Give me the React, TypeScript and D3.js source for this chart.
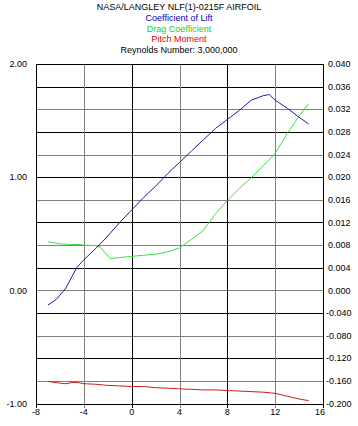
import React from 'react';
import * as d3 from 'd3';

// angle of attack (deg) and coefficients
const liftAlpha = [-7, -6.3, -5.5, -5, -4.6, -4, -3, -2, -1, 0, 1, 2, 3, 4, 5, 6, 7, 8, 9, 10, 11, 11.5, 12, 13, 14, 14.8];
const liftValues = [-0.13, -0.08, 0.02, 0.12, 0.2, 0.27, 0.37, 0.48, 0.6, 0.71, 0.82, 0.92, 1.03, 1.13, 1.23, 1.33, 1.43, 1.51, 1.59, 1.68, 1.72, 1.73, 1.68, 1.61, 1.53, 1.47];

const dragAlpha = [-7, -6, -5, -4.3, -4, -3, -2.6, -2.2, -1.8, -1, 0, 1, 2, 3, 4, 5, 6, 7, 8, 9, 10, 11, 12, 13, 14, 14.8];
const dragValues = [0.0086, 0.0082, 0.0081, 0.0081, 0.008, 0.0079, 0.0076, 0.0066, 0.0056, 0.0058, 0.006, 0.0062, 0.0064, 0.0068, 0.0075, 0.009, 0.0106, 0.0135, 0.0159, 0.018, 0.0199, 0.022, 0.0242, 0.0277, 0.0308, 0.033];

const momentAlpha = [-7, -6, -5.5, -5, -4.5, -4, -3, -2, -1, 0, 1, 2, 3, 4, 5, 6, 7, 8, 9, 10, 11, 12, 13, 14, 14.8];
const momentValues = [-0.161, -0.164, -0.165, -0.163, -0.163, -0.165, -0.166, -0.168, -0.169, -0.17, -0.17, -0.172, -0.173, -0.174, -0.175, -0.176, -0.176, -0.177, -0.178, -0.179, -0.18, -0.182, -0.187, -0.192, -0.195];

const xTicks = [-8, -4, 0, 4, 8, 12, 16];
const leftTicks = [2, 1, 0, -1];
const dragTicks = [0.04, 0.036, 0.032, 0.028, 0.024, 0.02, 0.016, 0.012, 0.008, 0.004, 0];
const momentTicks = [-0.04, -0.08, -0.12, -0.16, -0.2];

const titleLines = [
  { text: 'NASA/LANGLEY NLF(1)-0215F AIRFOIL', color: '#000000' },
  { text: 'Coefficient of Lift', color: '#0000cc' },
  { text: 'Drag Coefficient', color: '#22cc22' },
  { text: 'Pitch Moment', color: '#dd0000' },
  { text: 'Reynolds Number: 3,000,000', color: '#000000' },
];

const W = 358;
const H = 426;
const left = 36;
const right = 323;
const top = 64;
const bottom = 403.5;
const font = 'Arial, "Liberation Sans", sans-serif';

export default function App() {
  const x = d3.scaleLinear().domain([-8, 16]).range([left, right]);
  const yLift = d3.scaleLinear().domain([-1, 2]).range([bottom, top]);
  const zero = yLift(0);
  const yDrag = d3.scaleLinear().domain([0, 0.04]).range([zero, top]);
  const yMoment = d3.scaleLinear().domain([-0.2, 0]).range([bottom, zero]);

  const gridY = d3.range(1, 15).map(i => ({ v: 2 - i * 0.2, dark: i % 2 === 1 }));
  const gridX = [-4, 0, 4, 8, 12].map((v, j) => ({ v, dark: j % 2 === 1 }));

  const liftLine = d3.line<number>().x((_, i) => x(liftAlpha[i])).y(d => yLift(d));
  const dragLine = d3.line<number>().x((_, i) => x(dragAlpha[i])).y(d => yDrag(d));
  const momentLine = d3.line<number>().x((_, i) => x(momentAlpha[i])).y(d => yMoment(d));

  return (
    <svg width={W} height={H} style={{ position: 'absolute', left: 0, top: 0, background: '#fff' }} fontFamily={font} fontSize={9}>
      <rect x={0} y={0} width={W} height={H} fill="#fff" />
      {titleLines.map((t, i) => (
        <text key={i} x={179} y={10 + i * 10.8} textAnchor="middle" fill={t.color}>{t.text}</text>
      ))}

      {gridY.map((g, i) => (
        <line key={'h' + i} x1={left} x2={right} y1={Math.round(yLift(g.v)) + 0.5} y2={Math.round(yLift(g.v)) + 0.5}
          stroke={g.dark ? '#000' : '#808080'} strokeWidth={1} shapeRendering="crispEdges" />
      ))}
      {gridX.map((g, i) => (
        <line key={'v' + i} x1={Math.round(x(g.v)) + 0.5} x2={Math.round(x(g.v)) + 0.5} y1={top} y2={bottom + 4}
          stroke={g.dark ? '#000' : '#808080'} strokeWidth={1} shapeRendering="crispEdges" />
      ))}

      {/* frame */}
      <line x1={left + 0.5} x2={left + 0.5} y1={top} y2={bottom + 4} stroke="#000" shapeRendering="crispEdges" />
      <line x1={right + 0.5} x2={right + 0.5} y1={top} y2={bottom + 4} stroke="#000" shapeRendering="crispEdges" />
      <line x1={left} x2={right} y1={top + 0.5} y2={top + 0.5} stroke="#000" shapeRendering="crispEdges" />
      <line x1={left} x2={right} y1={Math.round(bottom) + 0.5} y2={Math.round(bottom) + 0.5} stroke="#000" shapeRendering="crispEdges" />

      <path d={momentLine(momentValues) || ''} fill="none" stroke="#c81e1e" strokeWidth={1} />
      <path d={dragLine(dragValues) || ''} fill="none" stroke="#44dd44" strokeWidth={1} />
      <path d={liftLine(liftValues) || ''} fill="none" stroke="#1c1ca8" strokeWidth={1} />

      {leftTicks.map(v => (
        <text key={'l' + v} x={27} y={yLift(v) + 3.2} textAnchor="end">{v.toFixed(2)}</text>
      ))}
      {dragTicks.map(v => (
        <text key={'d' + v} x={328} y={yDrag(v) + 3.2}>{v.toFixed(3)}</text>
      ))}
      {momentTicks.map(v => (
        <text key={'m' + v} x={326} y={yMoment(v) + 3.2}>{v.toFixed(3)}</text>
      ))}
      {xTicks.map(v => (
        <text key={'x' + v} x={x(v) - (v === 16 ? 3 : 0)} y={bottom + 11} textAnchor="middle">{v}</text>
      ))}
    </svg>
  );
}
